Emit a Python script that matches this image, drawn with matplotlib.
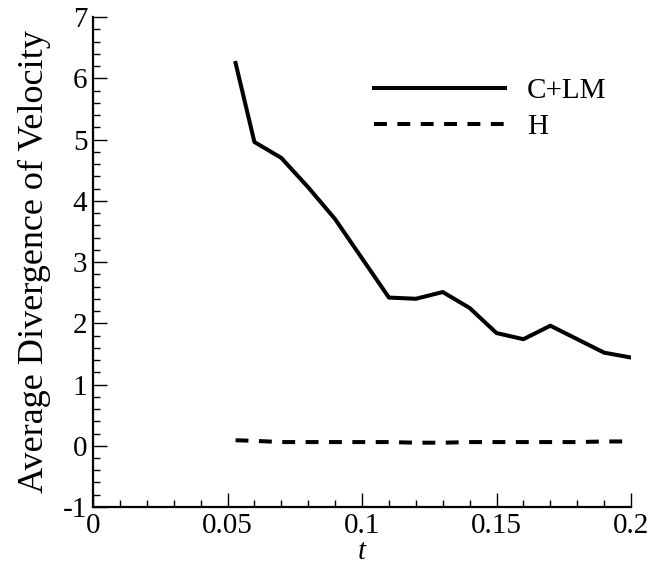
import matplotlib
matplotlib.use("Agg")
import matplotlib.pyplot as plt
from matplotlib.ticker import MultipleLocator

plt.rcParams["font.family"] = ["Liberation Serif", "DejaVu Serif"]
plt.rcParams["axes.unicode_minus"] = False

# C+LM series
t_clm = [0.053, 0.06, 0.07, 0.08, 0.09, 0.10, 0.11, 0.12, 0.13, 0.14, 0.15, 0.16, 0.17, 0.18, 0.19, 0.20]
div_clm = [6.25, 4.96, 4.70, 4.22, 3.70, 3.06, 2.42, 2.40, 2.51, 2.25, 1.84, 1.74, 1.96, 1.74, 1.52, 1.44]

# H series
t_h = [0.053, 0.06, 0.07, 0.08, 0.09, 0.10, 0.11, 0.12, 0.13, 0.14, 0.15, 0.16, 0.17, 0.18, 0.19, 0.20]
div_h = [0.09, 0.08, 0.06, 0.06, 0.06, 0.06, 0.06, 0.05, 0.05, 0.06, 0.06, 0.06, 0.06, 0.06, 0.07, 0.07]

fig = plt.figure(figsize=(6.53, 5.71), dpi=100)
ax = fig.add_axes([0.1424, 0.1121, 0.824, 0.858])

ax.plot(t_clm, div_clm, color="black", lw=2.9, label="C+LM")
ax.plot(t_h, div_h, color="black", lw=2.9, ls=(0, (3.2, 2.6)), label="H")

ax.set_xlim(0, 0.2)
ax.set_ylim(-1, 7)
ax.xaxis.set_major_locator(MultipleLocator(0.05))
ax.xaxis.set_minor_locator(MultipleLocator(0.01))
ax.yaxis.set_major_locator(MultipleLocator(1))
ax.yaxis.set_minor_locator(MultipleLocator(0.2))
ax.set_xticks([0, 0.05, 0.1, 0.15, 0.2])
ax.set_xticklabels(["0", "0.05", "0.1", "0.15", "0.2"])

ax.spines["top"].set_visible(False)
ax.spines["right"].set_visible(False)
for sp in ("left", "bottom"):
    ax.spines[sp].set_linewidth(1.6)

ax.tick_params(which="both", direction="in", width=1.0, labelsize=21, pad=4)
ax.tick_params(which="major", length=10)
ax.tick_params(which="minor", length=5)

ax.set_xlabel("t", fontsize=21, fontstyle="italic", labelpad=0)
ax.set_ylabel("Average Divergence of Velocity", fontsize=26, labelpad=9)

ax.legend(loc="upper left", bbox_to_anchor=(0.5, 0.9), frameon=False, fontsize=21,
          handlelength=4.5, handletextpad=0.75, labelspacing=0.33, borderaxespad=0)

fig.savefig("out.png", dpi=100)
